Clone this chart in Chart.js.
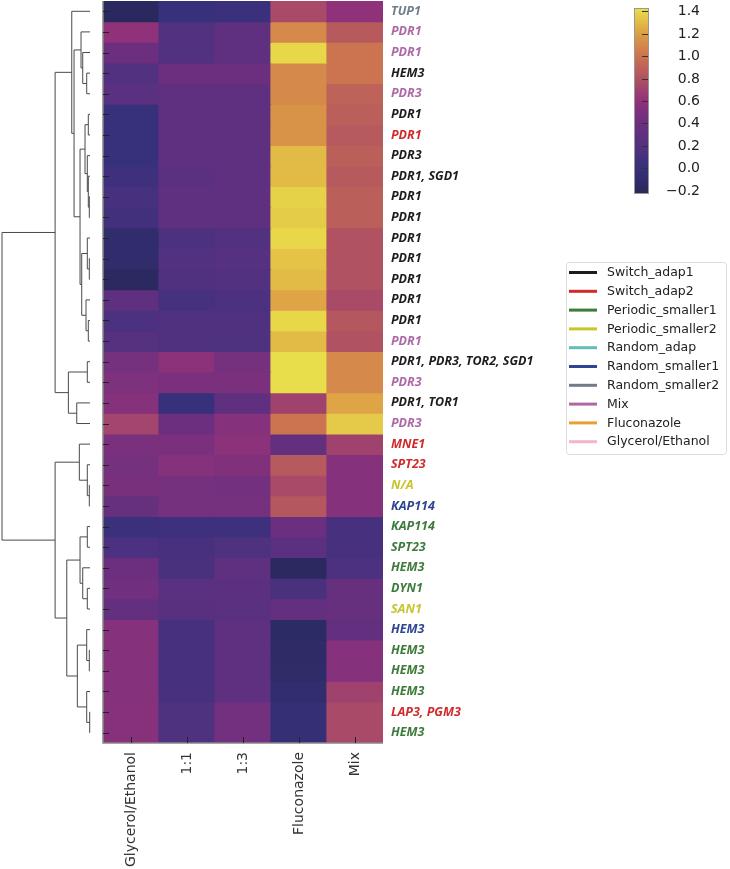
<!DOCTYPE html>
<html>
<head>
<meta charset="utf-8">
<script src="https://cdn.jsdelivr.net/npm/chart.js@4.4.1/dist/chart.umd.min.js"></script>
<style>
  html, body { margin: 0; padding: 0; background: #fff; }
  #wrap { width: 730px; height: 869px; }
</style>
</head>
<body>
<div id="wrap"><canvas id="heatChart" width="730" height="869"></canvas></div>
<script>
// Heatmap columns
const columns = ['Glycerol/Ethanol', '1:1', '1:3', 'Fluconazole', 'Mix'];

// Row labels (top to bottom) and the group each label is coloured by
const rowLabels = ['TUP1', 'PDR1', 'PDR1', 'HEM3', 'PDR3', 'PDR1', 'PDR1', 'PDR3', 'PDR1, SGD1',
    'PDR1', 'PDR1', 'PDR1', 'PDR1', 'PDR1', 'PDR1', 'PDR1', 'PDR1', 'PDR1, PDR3, TOR2, SGD1',
    'PDR3', 'PDR1, TOR1', 'PDR3', 'MNE1', 'SPT23', 'N/A', 'KAP114', 'KAP114', 'SPT23', 'HEM3',
    'DYN1', 'SAN1', 'HEM3', 'HEM3', 'HEM3', 'HEM3', 'LAP3, PGM3', 'HEM3'];
const rowGroups = ['Random_smaller2', 'Mix', 'Mix', 'Switch_adap1', 'Mix', 'Switch_adap1', 'Switch_adap2',
    'Switch_adap1', 'Switch_adap1', 'Switch_adap1', 'Switch_adap1', 'Switch_adap1', 'Switch_adap1',
    'Switch_adap1', 'Switch_adap1', 'Switch_adap1', 'Mix', 'Switch_adap1', 'Mix', 'Switch_adap1', 'Mix',
    'Switch_adap2', 'Switch_adap2', 'Periodic_smaller2', 'Random_smaller1', 'Periodic_smaller1',
    'Periodic_smaller1', 'Periodic_smaller1', 'Periodic_smaller1', 'Periodic_smaller2', 'Random_smaller1',
    'Periodic_smaller1', 'Periodic_smaller1', 'Periodic_smaller1', 'Switch_adap2', 'Periodic_smaller1'];

// Cell values per column (row order as above)
const glycerolEthanol = [-0.2, 0.6, 0.4, 0.2, 0.25, 0.0, 0.0, 0.0, 0.05, 0.1, 0.08, -0.1, -0.1, -0.18, 0.3, 0.15, 0.22,
    0.45, 0.5, 0.55, 0.72, 0.48, 0.45, 0.47, 0.35, 0.02, 0.15, 0.4, 0.42, 0.33, 0.55, 0.55, 0.55, 0.55, 0.56, 0.56];
const ratio11 = [0.0, 0.2, 0.2, 0.4, 0.3, 0.3, 0.3, 0.3, 0.28, 0.3, 0.3, 0.15, 0.2, 0.18, 0.1, 0.18, 0.18,
    0.58, 0.48, 0.0, 0.4, 0.48, 0.55, 0.45, 0.45, 0.05, 0.12, 0.13, 0.25, 0.24, 0.1, 0.1, 0.1, 0.12, 0.17, 0.17];
const ratio13 = [0.02, 0.3, 0.3, 0.4, 0.3, 0.3, 0.3, 0.3, 0.3, 0.3, 0.3, 0.2, 0.22, 0.2, 0.15, 0.18, 0.17,
    0.45, 0.48, 0.3, 0.55, 0.58, 0.52, 0.44, 0.45, 0.05, 0.17, 0.3, 0.28, 0.26, 0.3, 0.3, 0.3, 0.3, 0.44, 0.44];
const fluconazole = [0.75, 1.1, 1.4, 1.1, 1.1, 1.15, 1.15, 1.3, 1.3, 1.38, 1.36, 1.4, 1.33, 1.3, 1.22, 1.4, 1.3,
    1.42, 1.42, 0.7, 1.0, 0.32, 0.85, 0.75, 0.83, 0.4, 0.28, -0.18, 0.13, 0.33, -0.15, -0.14, -0.12, -0.08, -0.03, -0.03];
const mix = [0.6, 0.85, 1.0, 1.0, 0.9, 0.88, 0.85, 0.88, 0.85, 0.88, 0.88, 0.8, 0.8, 0.8, 0.75, 0.83, 0.8,
    1.1, 1.1, 1.22, 1.35, 0.7, 0.55, 0.55, 0.55, 0.12, 0.12, 0.15, 0.35, 0.35, 0.33, 0.55, 0.55, 0.7, 0.75, 0.75];
const columnValues = [glycerolEthanol, ratio11, ratio13, fluconazole, mix];

// Row dendrogram as a linkage list: [childA, childB, height]; leaves are 0..35, merges numbered from 36
const linkage = [
    [9, 10, 0.07], [8, 36, 0.17], [7, 37, 0.27], [5, 6, 0.17], [39, 38, 0.5],
    [12, 13, 0.07], [11, 41, 0.27], [15, 16, 0.17], [14, 43, 0.4], [42, 44, 0.83],
    [40, 45, 1.0], [3, 4, 0.33], [2, 47, 0.73], [1, 48, 0.9], [49, 46, 1.6],
    [0, 50, 1.83], [17, 18, 0.27], [19, 20, 1.33], [52, 53, 2.17], [51, 54, 3.5],
    [23, 24, 0.07], [22, 56, 0.27], [21, 57, 1.07], [25, 26, 0.27], [28, 29, 0.27],
    [27, 60, 0.73], [59, 61, 1.0], [31, 32, 0.07], [30, 63, 0.33], [34, 35, 0.03],
    [33, 65, 0.33], [64, 66, 1.27], [62, 67, 2.33], [58, 68, 3.5], [55, 69, 8.83]
];

// Colour bar
const cbarMin = -0.22, cbarMax = 1.43;
const cbarTicks = [-0.2, 0.0, 0.2, 0.4, 0.6, 0.8, 1.0, 1.2, 1.4];

// Legend groups
const groupNames = ['Switch_adap1', 'Switch_adap2', 'Periodic_smaller1', 'Periodic_smaller2', 'Random_adap',
    'Random_smaller1', 'Random_smaller2', 'Mix', 'Fluconazole', 'Glycerol/Ethanol'];
const groupColors = ['#1c1c1c', '#d02a2a', '#3c7b3a', '#c8c42c', '#62bdb5',
    '#2f4591', '#707c88', '#ad68a8', '#e8a030', '#f2b6c6'];

// muted plasma-like colour map (value, colour)
const cmapStops = [
    [-0.22, '#29285c'], [0.0, '#37307a'], [0.2, '#523180'], [0.4, '#6c2f7f'], [0.6, '#8f327a'],
    [0.8, '#b05262'], [1.0, '#cc7350'], [1.2, '#dd9e44'], [1.43, '#e9e04a']
];

function hexToRgb(h) {
    const n = parseInt(h.slice(1), 16);
    return [(n >> 16) & 255, (n >> 8) & 255, n & 255];
}
function colourFor(v) {
    if (v <= cmapStops[0][0]) return cmapStops[0][1];
    for (let i = 1; i < cmapStops.length; i++) {
        if (v <= cmapStops[i][0]) {
            const [v0, c0] = cmapStops[i - 1], [v1, c1] = cmapStops[i];
            const t = (v - v0) / (v1 - v0);
            const a = hexToRgb(c0), b = hexToRgb(c1);
            const m = a.map((x, k) => Math.round(x + (b[k] - x) * t));
            return 'rgb(' + m.join(',') + ')';
        }
    }
    return cmapStops[cmapStops.length - 1][1];
}
const colourOfGroup = g => groupColors[groupNames.indexOf(g)];

// one stacked dataset per row, each cell one unit high
const datasets = rowLabels.map((label, i) => ({
    label: label,
    data: columns.map(() => 1),
    backgroundColor: columnValues.map(col => colourFor(col[i])),
    borderWidth: 0,
    inflateAmount: 0.6,
    barPercentage: 1,
    categoryPercentage: 1
}));

const extras = {
    id: 'extras',
    afterDraw(chart) {
        const { ctx, chartArea: a, scales: { x, y } } = chart;
        ctx.save();

        // dendrogram
        const dRight = 90, dLeft = 2;
        const hMax = linkage[linkage.length - 1][2];
        const pos = rowLabels.map((_, i) => ({ x: dRight, y: y.getPixelForValue(i + 0.5) }));
        ctx.strokeStyle = '#4a4a4a';
        ctx.lineWidth = 1;
        linkage.forEach(([p, q, h]) => {
            const xs = dRight - h / hMax * (dRight - dLeft);
            ctx.beginPath();
            ctx.moveTo(pos[p].x, pos[p].y);
            ctx.lineTo(xs, pos[p].y);
            ctx.lineTo(xs, pos[q].y);
            ctx.lineTo(pos[q].x, pos[q].y);
            ctx.stroke();
            pos.push({ x: xs, y: (pos[p].y + pos[q].y) / 2 });
        });

        // frame and inward ticks
        ctx.strokeStyle = '#888';
        ctx.lineWidth = 1.5;
        ctx.beginPath();
        ctx.moveTo(a.left, a.top);
        ctx.lineTo(a.left, a.bottom);
        ctx.lineTo(a.right, a.bottom);
        ctx.stroke();
        ctx.strokeStyle = '#222';
        ctx.lineWidth = 1;
        rowLabels.forEach((_, i) => {
            const py = Math.round(y.getPixelForValue(i + 0.5)) + 0.5;
            ctx.beginPath();
            ctx.moveTo(a.left, py);
            ctx.lineTo(a.left + 6, py);
            ctx.stroke();
        });
        columns.forEach((_, i) => {
            const px = Math.round(x.getPixelForValue(i)) + 0.5;
            ctx.beginPath();
            ctx.moveTo(px, a.bottom - 6);
            ctx.lineTo(px, a.bottom);
            ctx.stroke();
        });

        // colour bar
        const cb = { left: 634, right: 648, top: 8, bottom: 193 };
        const cbY = v => cb.bottom - (v - cbarMin) / (cbarMax - cbarMin) * (cb.bottom - cb.top);
        for (let py = cb.top; py < cb.bottom; py++) {
            const v = cbarMin + (cb.bottom - py - 0.5) / (cb.bottom - cb.top) * (cbarMax - cbarMin);
            ctx.fillStyle = colourFor(v);
            ctx.fillRect(cb.left, py, cb.right - cb.left, 1);
        }
        ctx.strokeStyle = '#999';
        ctx.strokeRect(cb.left + 0.5, cb.top + 0.5, cb.right - cb.left, cb.bottom - cb.top);
        ctx.font = '14px "DejaVu Sans"';
        ctx.fillStyle = '#222';
        ctx.textAlign = 'right';
        ctx.textBaseline = 'middle';
        cbarTicks.forEach(t => {
            const py = Math.round(cbY(t)) + 0.5;
            ctx.strokeStyle = '#333';
            ctx.beginPath();
            ctx.moveTo(cb.right - 6, py);
            ctx.lineTo(cb.right, py);
            ctx.stroke();
            ctx.fillText((t < 0 ? '\u2212' : '') + Math.abs(t).toFixed(1), 700, py);
        });

        // group legend
        ctx.strokeStyle = '#dddddd';
        ctx.lineWidth = 1;
        ctx.beginPath();
        ctx.roundRect(566.5, 262.5, 160, 192, 3);
        ctx.stroke();
        ctx.font = '12.5px "DejaVu Sans"';
        ctx.textAlign = 'left';
        groupNames.forEach((g, i) => {
            const py = 272.5 + i * 18.8;
            ctx.strokeStyle = groupColors[i];
            ctx.lineWidth = 3;
            ctx.beginPath();
            ctx.moveTo(569, py);
            ctx.lineTo(597, py);
            ctx.stroke();
            ctx.fillStyle = '#222';
            ctx.fillText(g, 607, py + 0.5);
        });
        ctx.restore();
    }
};

new Chart(document.getElementById('heatChart'), {
    type: 'bar',
    data: { labels: columns, datasets: datasets },
    options: {
        responsive: false,
        animation: false,
        layout: { padding: { left: 103, top: 1, right: 0, bottom: 0 } },
        plugins: { legend: { display: false }, tooltip: { enabled: false } },
        scales: {
            x: {
                stacked: true,
                grid: { display: false, drawTicks: false },
                border: { display: false },
                ticks: {
                    maxRotation: 90, minRotation: 90, padding: 9,
                    color: '#333',
                    font: { family: '"DejaVu Sans"', size: 14 }
                },
                afterFit: s => { s.height = 126; s.paddingLeft = 0; s.paddingRight = 0; }
            },
            y: {
                stacked: true,
                position: 'right',
                reverse: true,
                min: 0,
                max: rowLabels.length,
                grid: { display: false, drawTicks: false },
                border: { display: false },
                afterBuildTicks: s => { s.ticks = rowLabels.map((_, i) => ({ value: i + 0.5 })); },
                ticks: {
                    autoSkip: false,
                    padding: 8,
                    callback: v => rowLabels[Math.floor(v)],
                    color: c => colourOfGroup(rowGroups[c.index]),
                    font: { family: '"Open Sans"', size: 12.5, weight: 'bold', style: 'italic' }
                },
                afterFit: s => { s.width = 347; s.paddingTop = 0; s.paddingBottom = 0; }
            }
        }
    },
    plugins: [extras]
});
</script>
</body>
</html>
